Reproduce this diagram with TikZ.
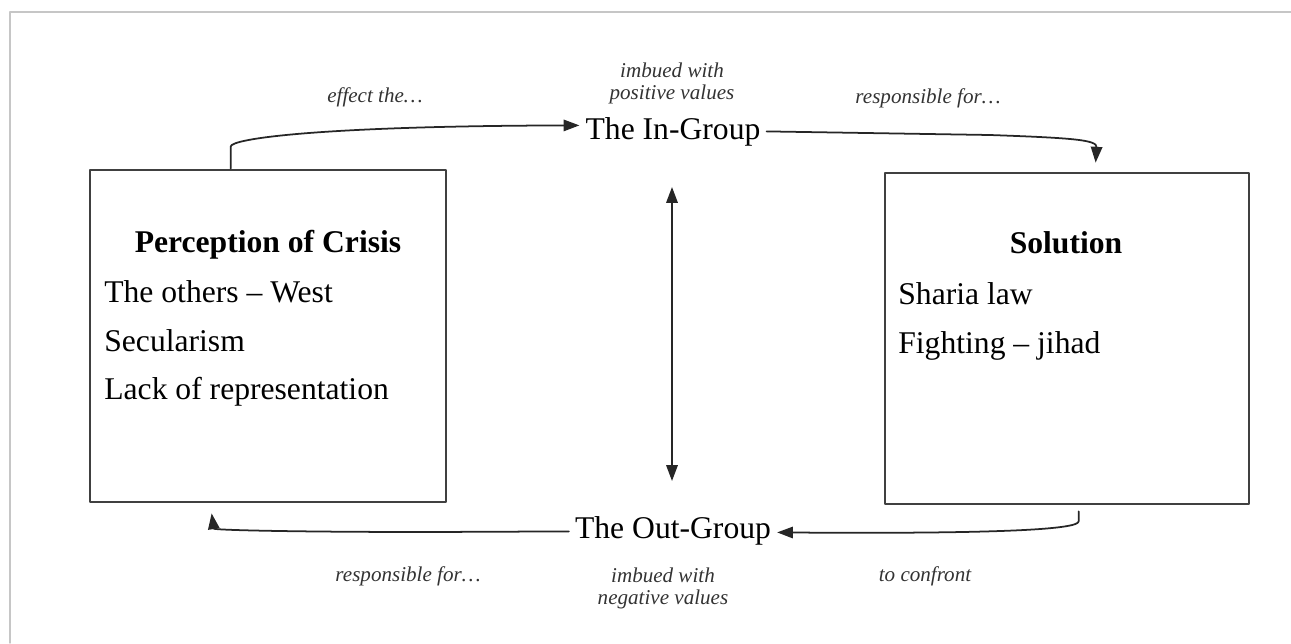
\documentclass[tikz,border=0pt]{standalone}
\usepackage{fontspec}
\setmainfont{Liberation Serif}
\usetikzlibrary{arrows,arrows.meta,calc,positioning}

\begin{document}
\begin{tikzpicture}[x=0.02cm,y=-0.02cm, line cap=round,line join=round,>={Triangle[length=9pt,width=6.5pt]},
  box/.style={draw=black!75, line width=1.6pt, inner sep=0pt},
  grp/.style={font=\fontsize{18}{22}\selectfont},
  item/.style={font=\fontsize{18}{22}\selectfont, anchor=base west, inner sep=0pt},
  lbl/.style={font=\fontsize{12}{12.5}\selectfont\itshape, text=black!80, align=center},
  conn/.style={line width=1pt, black!85}]
\useasboundingbox (0,0) rectangle (1291,643);
% frame of the page
\draw[gray!45, line width=0.8pt] (1291,12) -- (10,12) -- (10,643);

% the two boxes
\node[box, minimum width=7.12cm, minimum height=6.64cm] (crisis) at (268,336) {};
\node[box, minimum width=7.28cm, minimum height=6.62cm] (solution) at (1067,338.5) {};

\node[item, anchor=base] (crisistitle) at (268,252) {\textbf{Perception of Crisis}};
\node[item] (others) at (104,302) {The others – West};
\node[item] (secular) at (104,351) {Secularism};
\node[item] (lack) at (104,399) {Lack of representation};

\node[item, anchor=base] (soltitle) at (1066,253) {\textbf{Solution}};
\node[item] (sharia) at (898,304) {Sharia law};
\node[item] (fight) at (898,353) {Fighting – jihad};

% in-group / out-group
\node[grp, anchor=base] (ingroup) at (673,139) {The In-Group};
\node[grp, anchor=base] (outgroup) at (673,538) {The Out-Group};

% labels
\node[lbl] (effect) at (375,97) {effect the…};
\node[lbl] (posval) at (672,83) {imbued with\\positive values};
\node[lbl] (respin) at (928,98) {responsible for…};
\node[lbl] (respout) at (408,576) {responsible for…};
\node[lbl] (negval) at (663,588) {imbued with\\negative values};
\node[lbl] (confront) at (925,576) {to confront};

% cycle of arrows
\draw[conn,->] ($(crisis.north west)+(142,0)$) -- ++(0,-22)
  .. controls +(0,-8) and (320,126) .. ($(ingroup.west)+(0,-6)$);
\draw[conn,->] (ingroup.east) -- (990,135)
  .. controls (1075,138) and (1097,140) .. ($(solution.north west)+(212,-9)$);
\draw[conn,->] ($(solution.south west)+(195,6)$) -- ++(0,10)
  .. controls +(0,8) and (1000,534) .. ($(outgroup.east)+(0,2)$);
\draw[conn,->] ($(outgroup.west)+(0,1)$) -- (430,532)
  .. controls (290,532) and (214,530) .. ($(crisis.south west)+(123,10)$);

% in-group <-> out-group
\coordinate (vtop) at (672,187);
\coordinate (vbot) at (672,481);
\draw[conn,<->] (vtop) -- (vbot);
\end{tikzpicture}
\end{document}
